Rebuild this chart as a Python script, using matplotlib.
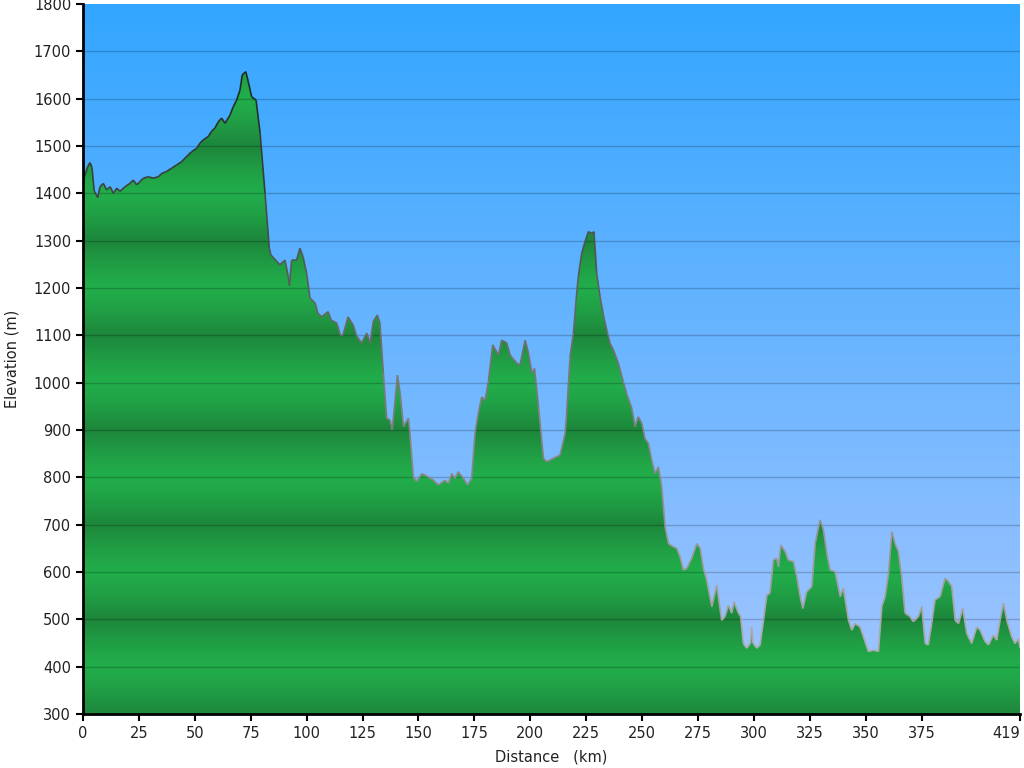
import numpy as np
import matplotlib
matplotlib.use("Agg")
import matplotlib.pyplot as plt
from matplotlib.collections import LineCollection
from matplotlib.colors import LinearSegmentedColormap

distance_km = [
    0, 0.3, 1, 2, 3.1, 4, 5, 6.6, 7.6, 9.1, 10.6, 12.1, 13.6, 15.1, 16.5, 18.8, 21, 22.5, 24, 25.5,
    27, 29.2, 31.4, 33.7, 35.2, 37.3, 39.6, 41.9, 44.1, 46.4, 48.6, 50.8, 52.3, 53.8, 56, 57.5,
    59, 60.5, 62, 63.5, 65.7, 67.2, 68.7, 70.2, 71.2, 72.8, 73.9, 75.4, 77.4, 79.2, 81.4, 83.3,
    84, 88, 90.3, 91.8, 92.3, 93.3, 95.5, 97, 98.4, 100, 101.5, 103.8, 105, 106.7, 109.6, 111,
    113.5, 115, 116.3, 118.5, 120.8, 122.4, 124.6, 126.9, 128.4, 129.8, 131.6, 132.8, 134.3,
    135.8, 137.3, 138.3, 140.6, 141.8, 143.3, 145.5, 146.2, 147.7, 149.2, 151.5, 154.4, 156.7,
    158.9, 161.9, 163.4, 164.9, 166.4, 167.8, 170.1, 171.9, 173.8, 175.3, 176.8, 178.3, 179.8,
    181.3, 183.2, 185.8, 187.2, 189.5, 191, 194, 195.4, 197.7, 199.2, 200.7, 201.9, 203.7, 205.9,
    207.4, 210.3, 213.3, 215.6, 216.3, 217.8, 219.3, 220.5, 221.5, 223, 224.5, 226, 227.5, 228.5,
    229.7, 231.2, 232.7, 234.2, 235.7, 237.2, 239.4, 241.6, 243.1, 245.4, 246.9, 248.3, 249.9,
    251.3, 252.8, 254.3, 255.8, 257.3, 258.8, 260.3, 261.8, 264, 265.5, 267, 268.5, 270, 272.2,
    274.5, 276, 277.4, 278.9, 281.2, 283.4, 285.6, 287.1, 288.6, 290.1, 291.1, 293.1, 294.1,
    295.3, 296.8, 298.5, 299, 299.6, 301.3, 302.8, 304.3, 305.8, 307.2, 308.7, 310.2, 311, 312,
    314, 315.4, 317.7, 319.2, 320.7, 321.9, 323.6, 325.9, 327.4, 329.6, 331.1, 332.6, 334.1,
    336.3, 338.6, 340, 342.3, 343.8, 345.3, 347.5, 349, 351.2, 353.4, 355.7, 357.2, 358.7, 360.2,
    361.7, 363.1, 364.6, 366.1, 367.6, 369.8, 371.3, 373.6, 375.1, 376.6, 378, 379.5, 381, 383.3,
    385.5, 387, 388.5, 390, 391.5, 393.4, 395.2, 397.4, 399.7, 401.2, 403.4, 404.9, 407.1, 408.6,
    410.1, 411.6, 413.1, 415.3, 416.8, 418.3, 419,
]
elevation_m = [
    1475, 1432, 1440, 1455, 1465, 1455, 1405, 1391, 1414, 1421, 1407, 1414, 1400, 1411, 1404, 1414,
    1421, 1428, 1418, 1425, 1432, 1435, 1432, 1435, 1442, 1446, 1453, 1460, 1467, 1478, 1488, 1495,
    1506, 1513, 1520, 1531, 1538, 1551, 1559, 1548, 1565, 1583, 1597, 1618, 1650, 1657, 1636, 1604,
    1597, 1527, 1400, 1284,
    1270, 1249, 1259, 1224, 1205, 1259, 1259, 1284, 1266, 1231, 1179, 1168, 1147, 1139, 1150, 1132,
    1126, 1101, 1101, 1139, 1122, 1098, 1084, 1105, 1084, 1129, 1143, 1126, 1020,
    925, 921, 900, 1016, 978, 907, 925, 893, 801, 791, 808, 801, 794,
    784, 794, 787, 808, 798, 812, 798, 784, 798, 893, 936, 970, 963,
    1003, 1080, 1058, 1090, 1084, 1058, 1041, 1037, 1090, 1062, 1020, 1030, 949, 840,
    833, 840, 847, 893, 936, 1055, 1105, 1175, 1224, 1273, 1298, 1319, 1315, 1319,
    1231, 1182, 1143, 1111, 1083, 1069, 1041, 1002, 977, 946, 907, 928, 914,
    882, 872, 837, 808, 822, 780, 696, 660, 653, 650, 632, 604, 608, 629,
    660, 650, 608, 583, 527, 572, 498, 506, 530, 513, 537, 513, 506,
    449, 439, 450, 484, 450, 439, 446, 498, 551, 555, 625, 629, 611, 657,
    643, 625, 622, 590, 548, 523, 558, 569, 660, 710, 689, 640, 604,
    601, 548, 566, 498, 477, 491, 484, 463, 432, 435, 432, 527, 548, 597,
    685, 660, 643, 590, 513, 506, 495, 506, 527, 449, 446, 491, 541, 548,
    587, 580, 569, 498, 491, 523, 470, 449, 484, 477, 453, 446, 467, 456,
    498, 534, 498, 463, 449, 459, 439,
]

x_ticks = [0, 25, 50, 75, 100, 125, 150, 175, 200, 225, 250, 275, 300, 325, 350, 375, 419]
y_ticks = list(range(300, 1801, 100))

x = np.array(distance_km, dtype=float)
y = np.array(elevation_m, dtype=float)
xmin, xmax, ymin, ymax = 0, 419, 300, 1800

fig = plt.figure(figsize=(10.24, 7.68), dpi=100)
ax = fig.add_axes([83 / 1024, 54 / 768, 937 / 1024, 710 / 768])
ax.set_xlim(xmin, xmax)
ax.set_ylim(ymin, ymax)

# background blue gradient
top = np.array([0x33, 0xa6, 0xff]) / 255
bot = np.array([0xa6, 0xc6, 0xff]) / 255
t = np.linspace(0, 1, 256)[:, None]
bg = (top * (1 - t) + bot * t)[:, None, :]
ax.imshow(bg, extent=[xmin, xmax, ymin, ymax], aspect="auto", origin="upper", zorder=0,
          interpolation="bilinear")

# green banded fill (bright at even hundreds, dark at odd hundreds)
yy = np.linspace(ymin, ymax, 1500)
phase = np.mod(yy / 100.0, 2.0)
d = np.minimum(phase, 2.0 - phase)          # 0 at even hundreds, 1 at odd
w = 1.0 - d ** 1.3
bright = np.array([0x22, 0xad, 0x4b]) / 255
dark = np.array([0x1d, 0x86, 0x3b]) / 255
col = dark[None, :] + (bright - dark)[None, :] * w[:, None]
gimg = col[:, None, :]
poly = ax.fill_between(x, y, ymin, facecolor="none", edgecolor="none", zorder=1)
im = ax.imshow(gimg, extent=[xmin, xmax, ymin, ymax], aspect="auto", origin="lower", zorder=1,
               interpolation="bilinear")
im.set_clip_path(poly.get_paths()[0], transform=ax.transData)

# grid lines
for v in y_ticks[1:-1]:
    ax.axhline(v, color="black", alpha=0.2, lw=1.0, zorder=2)

# outline with elevation-dependent gray
pts = np.column_stack([x, y]).reshape(-1, 1, 2)
segs = np.concatenate([pts[:-1], pts[1:]], axis=1)
cmap = LinearSegmentedColormap.from_list("g", ["#aaaaaa", "#777777", "#1e2e24"])
lc = LineCollection(segs, cmap=cmap, norm=plt.Normalize(450, 1600), linewidths=1.2, zorder=3)
lc.set_array((y[:-1] + y[1:]) / 2)
ax.add_collection(lc)

ax.set_xticks(x_ticks)
ax.set_yticks(y_ticks)
ax.tick_params(axis="both", direction="out", length=5, width=1.5, colors="black",
               labelsize=10.5, labelcolor="#222222")
lbls = ax.get_xticklabels()
lbls[-1].set_horizontalalignment("right")
for s in ["top", "right"]:
    ax.spines[s].set_visible(False)
for s in ["left", "bottom"]:
    ax.spines[s].set_linewidth(2)
    ax.spines[s].set_zorder(5)

ax.set_xlabel("Distance   (km)", fontsize=10.5, color="#222222", labelpad=6)
ax.set_ylabel("Elevation (m)", fontsize=10.5, color="#222222", labelpad=10)

fig.savefig("out.png", dpi=100)
